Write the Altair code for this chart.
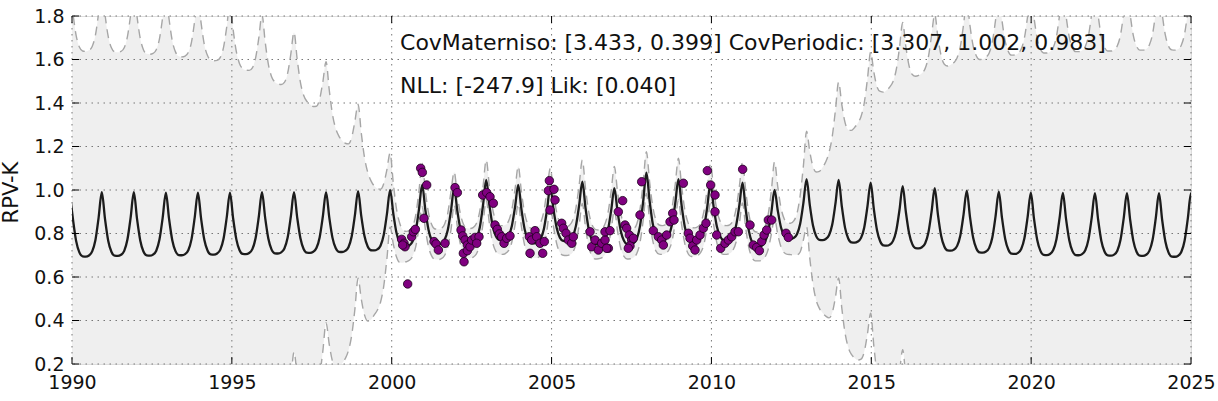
import altair as alt
import pandas as pd

# ---------------------------------------------------------------------------
# Values
# ---------------------------------------------------------------------------
# GP posterior mean, sampled 10 times per fitted period (period = 1.002 yr),
# first sample at the 1989.93 peak; one row per cycle.
PERIOD = 1.002
T0 = 1989.93
MEAN_ROWS = [
    [0.990, 0.866, 0.765, 0.713, 0.695, 0.694, 0.699, 0.718, 0.769, 0.872],
    [0.990, 0.867, 0.767, 0.716, 0.698, 0.697, 0.702, 0.720, 0.772, 0.873],
    [0.990, 0.867, 0.768, 0.717, 0.699, 0.698, 0.703, 0.721, 0.772, 0.872],
    [0.988, 0.867, 0.769, 0.719, 0.701, 0.700, 0.705, 0.723, 0.773, 0.873],
    [0.988, 0.868, 0.771, 0.722, 0.704, 0.703, 0.708, 0.726, 0.776, 0.874],
    [0.988, 0.869, 0.773, 0.723, 0.706, 0.705, 0.710, 0.728, 0.778, 0.876],
    [0.990, 0.872, 0.776, 0.726, 0.709, 0.708, 0.713, 0.731, 0.780, 0.877],
    [0.990, 0.873, 0.778, 0.729, 0.712, 0.711, 0.716, 0.733, 0.782, 0.878],
    [0.990, 0.875, 0.781, 0.733, 0.716, 0.715, 0.720, 0.737, 0.786, 0.883],
    [0.995, 0.880, 0.788, 0.740, 0.723, 0.722, 0.727, 0.744, 0.793, 0.889],
    [1.000, 0.891, 0.802, 0.757, 0.741, 0.740, 0.745, 0.763, 0.812, 0.910],
    [1.023, 0.908, 0.816, 0.768, 0.751, 0.750, 0.754, 0.771, 0.816, 0.905],
    [1.008, 0.902, 0.816, 0.771, 0.756, 0.755, 0.760, 0.778, 0.829, 0.930],
    [1.046, 0.930, 0.836, 0.788, 0.771, 0.770, 0.774, 0.790, 0.835, 0.922],
    [1.023, 0.910, 0.819, 0.772, 0.756, 0.755, 0.759, 0.776, 0.821, 0.911],
    [1.015, 0.910, 0.825, 0.781, 0.766, 0.765, 0.770, 0.787, 0.835, 0.929],
    [1.038, 0.917, 0.819, 0.769, 0.751, 0.750, 0.754, 0.771, 0.816, 0.905],
    [1.008, 0.900, 0.812, 0.767, 0.751, 0.750, 0.756, 0.776, 0.834, 0.948],
    [1.080, 0.950, 0.844, 0.790, 0.772, 0.770, 0.775, 0.792, 0.841, 0.938],
    [1.050, 0.928, 0.830, 0.779, 0.761, 0.760, 0.765, 0.782, 0.829, 0.922],
    [1.030, 0.921, 0.832, 0.787, 0.771, 0.770, 0.774, 0.791, 0.837, 0.928],
    [1.034, 0.911, 0.811, 0.759, 0.741, 0.740, 0.744, 0.761, 0.806, 0.896],
    [1.000, 0.906, 0.829, 0.790, 0.776, 0.775, 0.780, 0.797, 0.845, 0.940],
    [1.050, 0.932, 0.837, 0.788, 0.771, 0.770, 0.775, 0.792, 0.840, 0.936],
    [1.046, 0.925, 0.827, 0.777, 0.759, 0.758, 0.763, 0.780, 0.828, 0.924],
    [1.034, 0.912, 0.814, 0.763, 0.745, 0.744, 0.749, 0.766, 0.814, 0.908],
    [1.018, 0.898, 0.801, 0.751, 0.733, 0.732, 0.737, 0.754, 0.802, 0.898],
    [1.008, 0.887, 0.790, 0.740, 0.722, 0.721, 0.726, 0.743, 0.791, 0.887],
    [0.997, 0.877, 0.780, 0.731, 0.713, 0.712, 0.717, 0.734, 0.783, 0.880],
    [0.992, 0.872, 0.775, 0.725, 0.707, 0.706, 0.711, 0.729, 0.778, 0.875],
    [0.988, 0.867, 0.770, 0.720, 0.702, 0.701, 0.706, 0.724, 0.774, 0.874],
    [0.987, 0.866, 0.769, 0.719, 0.701, 0.700, 0.705, 0.723, 0.773, 0.872],
    [0.986, 0.865, 0.767, 0.717, 0.699, 0.698, 0.703, 0.721, 0.771, 0.871],
    [0.985, 0.864, 0.766, 0.716, 0.698, 0.697, 0.702, 0.720, 0.770, 0.870],
    [0.985, 0.862, 0.763, 0.712, 0.694, 0.693, 0.698, 0.716, 0.767, 0.868],
    [0.985, 0.862],
]

# Half-width of the confidence band at the same samples.
HALF_WIDTH_ROWS = [
    [0.946, 0.945, 0.945, 0.944, 0.944, 0.943, 0.943, 0.942, 0.942, 0.941],
    [0.940, 0.940, 0.939, 0.938, 0.937, 0.936, 0.935, 0.934, 0.933, 0.932],
    [0.931, 0.930, 0.929, 0.928, 0.927, 0.926, 0.925, 0.924, 0.923, 0.922],
    [0.921, 0.919, 0.917, 0.916, 0.914, 0.912, 0.911, 0.909, 0.907, 0.905],
    [0.902, 0.900, 0.898, 0.896, 0.894, 0.891, 0.888, 0.884, 0.880, 0.876],
    [0.872, 0.868, 0.863, 0.858, 0.852, 0.846, 0.840, 0.834, 0.828, 0.822],
    [0.816, 0.809, 0.802, 0.795, 0.788, 0.780, 0.772, 0.764, 0.756, 0.748],
    [0.735, 0.727, 0.717, 0.707, 0.696, 0.683, 0.668, 0.652, 0.636, 0.619],
    [0.600, 0.585, 0.568, 0.550, 0.532, 0.513, 0.495, 0.475, 0.455, 0.432],
    [0.400, 0.382, 0.362, 0.342, 0.320, 0.297, 0.280, 0.260, 0.236, 0.205],
    [0.170, 0.140, 0.110, 0.090, 0.075, 0.070, 0.068, 0.068, 0.072, 0.085],
    [0.100, 0.088, 0.078, 0.072, 0.070, 0.070, 0.070, 0.072, 0.078, 0.088],
    [0.075, 0.072, 0.070, 0.068, 0.068, 0.068, 0.068, 0.070, 0.075, 0.085],
    [0.092, 0.085, 0.077, 0.070, 0.066, 0.066, 0.066, 0.068, 0.074, 0.082],
    [0.086, 0.080, 0.074, 0.070, 0.068, 0.068, 0.070, 0.074, 0.082, 0.092],
    [0.085, 0.078, 0.072, 0.068, 0.066, 0.066, 0.068, 0.074, 0.082, 0.092],
    [0.100, 0.090, 0.080, 0.072, 0.068, 0.066, 0.066, 0.070, 0.078, 0.090],
    [0.100, 0.090, 0.080, 0.072, 0.068, 0.066, 0.066, 0.068, 0.076, 0.088],
    [0.096, 0.088, 0.078, 0.071, 0.067, 0.066, 0.066, 0.068, 0.076, 0.088],
    [0.096, 0.088, 0.078, 0.071, 0.067, 0.066, 0.066, 0.068, 0.076, 0.086],
    [0.090, 0.082, 0.075, 0.070, 0.067, 0.066, 0.066, 0.068, 0.076, 0.086],
    [0.094, 0.086, 0.077, 0.070, 0.067, 0.066, 0.067, 0.070, 0.080, 0.100],
    [0.130, 0.110, 0.090, 0.078, 0.072, 0.072, 0.078, 0.095, 0.130, 0.170],
    [0.220, 0.245, 0.270, 0.295, 0.315, 0.335, 0.355, 0.380, 0.405, 0.430],
    [0.450, 0.468, 0.484, 0.500, 0.515, 0.530, 0.545, 0.558, 0.572, 0.586],
    [0.600, 0.630, 0.660, 0.690, 0.705, 0.715, 0.725, 0.733, 0.740, 0.746],
    [0.752, 0.760, 0.770, 0.780, 0.790, 0.795, 0.800, 0.804, 0.808, 0.812],
    [0.800, 0.815, 0.828, 0.838, 0.848, 0.855, 0.860, 0.865, 0.869, 0.873],
    [0.876, 0.879, 0.882, 0.885, 0.887, 0.890, 0.893, 0.896, 0.899, 0.902],
    [0.905, 0.907, 0.909, 0.911, 0.913, 0.915, 0.917, 0.919, 0.921, 0.923],
    [0.924, 0.925, 0.926, 0.927, 0.928, 0.929, 0.930, 0.931, 0.932, 0.933],
    [0.933, 0.934, 0.934, 0.935, 0.935, 0.936, 0.936, 0.937, 0.937, 0.938],
    [0.938, 0.939, 0.939, 0.940, 0.940, 0.941, 0.941, 0.942, 0.942, 0.943],
    [0.943, 0.944, 0.944, 0.945, 0.945, 0.946, 0.946, 0.947, 0.947, 0.948],
    [0.948, 0.948, 0.949, 0.949, 0.950, 0.950, 0.950, 0.951, 0.951, 0.951],
    [0.952, 0.952],
]

# Observations (purple dots)
OBS_YEAR = [
    2000.312, 2000.385, 2000.416, 2000.343, 2000.499, 2000.625, 2000.677, 2000.739,
    2000.906, 2000.958, 2001.094, 2001.010, 2001.323, 2001.386, 2001.459, 2001.667,
    2001.980, 2002.053, 2002.168, 2002.220, 2002.293, 2002.366, 2002.241, 2002.262,
    2002.366, 2002.449, 2002.501, 2002.606, 2002.730, 2002.658, 2002.845, 2002.970,
    2003.075, 2003.179, 2003.231, 2003.304, 2003.367, 2003.440, 2003.513, 2003.596,
    2003.700, 2004.305, 2004.378, 2004.326, 2004.482, 2004.534, 2004.639, 2004.722,
    2004.774, 2004.899, 2004.931, 2005.077, 2005.108, 2004.951, 2005.316, 2005.368,
    2005.452, 2005.525, 2005.629, 2005.681, 2006.203, 2006.255, 2006.359, 2006.463,
    2006.567, 2006.672, 2006.776, 2006.671, 2006.828, 2006.724, 2007.088, 2007.224,
    2007.297, 2007.349, 2007.433, 2007.506, 2007.453, 2007.558, 2007.401, 2007.766,
    2007.818, 2008.183, 2008.340, 2008.444, 2008.496, 2008.600, 2008.705, 2008.788,
    2008.830, 2009.122, 2009.278, 2009.330, 2009.414, 2009.487, 2009.539, 2009.643,
    2009.747, 2009.831, 2009.872, 2009.977, 2010.112, 2010.112, 2010.164, 2010.289,
    2010.425, 2010.529, 2010.633, 2010.738, 2010.842, 2010.977, 2011.207, 2011.311,
    2011.415, 2011.499, 2011.572, 2011.645, 2011.728, 2011.780, 2011.885, 2012.333,
    2012.406,
]
OBS_VALUE = [
    0.773, 0.755, 0.739, 0.747, 0.568, 0.785, 0.808, 0.819,
    1.100, 1.081, 1.023, 0.870, 0.763, 0.752, 0.724, 0.755,
    1.011, 0.988, 0.816, 0.789, 0.770, 0.747, 0.709, 0.670,
    0.721, 0.739, 0.770, 0.782, 0.785, 0.755, 0.977, 0.988,
    0.969, 0.939, 0.839, 0.819, 0.798, 0.785, 0.755, 0.778,
    0.789, 0.785, 0.770, 0.709, 0.813, 0.785, 0.755, 0.709,
    0.763, 0.997, 1.043, 1.003, 0.954, 0.908, 0.847, 0.824,
    0.801, 0.770, 0.755, 0.785, 0.808, 0.739, 0.770, 0.724,
    0.755, 0.770, 0.732, 0.808, 0.813, 0.732, 0.900, 0.951,
    0.839, 0.824, 0.793, 0.770, 0.743, 0.778, 0.732, 0.885,
    1.038, 0.813, 0.785, 0.770, 0.747, 0.793, 0.854, 0.893,
    0.862, 1.031, 0.801, 0.778, 0.743, 0.724, 0.770, 0.793,
    0.824, 0.847, 1.089, 1.023, 0.977, 0.900, 0.793, 0.732,
    0.755, 0.770, 0.785, 0.808, 0.808, 1.095, 0.839, 0.747,
    0.736, 0.721, 0.763, 0.793, 0.816, 0.862, 0.862, 0.801,
    0.782,
]

X_TICKS = [1990, 1995, 2000, 2005, 2010, 2015, 2020, 2025]
Y_TICKS = [0.2, 0.4, 0.6, 0.8, 1.0, 1.2, 1.4, 1.6, 1.8]

TEXT_LINES = [
    "CovMaterniso: [3.433, 0.399] CovPeriodic: [3.307, 1.002, 0.983]",
    "NLL: [-247.9] Lik: [0.040]",
]
TEXT_X = [2000.26, 2000.26]
TEXT_Y = [1.645, 1.447]

# ---------------------------------------------------------------------------
# Tables
# ---------------------------------------------------------------------------
mean = [v for row in MEAN_ROWS for v in row]
half = [v for row in HALF_WIDTH_ROWS for v in row]
t = [T0 + i * PERIOD / 10 for i in range(len(mean))]
curve = pd.DataFrame({
    "t": t,
    "mean": mean,
    "upper": [m + h for m, h in zip(mean, half)],
    "lower": [m - h for m, h in zip(mean, half)],
})
obs = pd.DataFrame({"t": OBS_YEAR, "v": OBS_VALUE})
xt = pd.DataFrame({"t": X_TICKS})
yt = pd.DataFrame({"v": Y_TICKS})
txt = pd.DataFrame({"t": TEXT_X, "v": TEXT_Y, "s": TEXT_LINES})

W, H = 1119, 348
FONT = "DejaVu Sans"

xscale = alt.Scale(domain=[1990, 2025], nice=False, zero=False)
yscale = alt.Scale(domain=[0.2, 1.8], nice=False, zero=False)
xaxis = alt.Axis(values=X_TICKS, format="d", title=None, grid=False, ticks=False,
                 tickSize=0, domain=False, labelFlush=False, labelPadding=9,
                 labelFont=FONT, labelFontSize=19, labelColor="#111111")
yaxis = alt.Axis(values=Y_TICKS, format=".1f", title="RPV-K", grid=False, ticks=False,
                 tickSize=0, domain=False, labelFlush=False, labelPadding=8,
                 labelFont=FONT, labelFontSize=19, labelColor="#111111",
                 titleFont=FONT, titleFontSize=21, titleFontWeight="normal",
                 titleColor="#111111", titleAngle=270, titleBaseline="alphabetic",
                 titleX=-55, titleY=176)


def X(field):
    return alt.X(f"{field}:Q", scale=xscale, axis=xaxis)


def Y(field):
    return alt.Y(f"{field}:Q", scale=yscale, axis=yaxis)


band = alt.Chart(curve).mark_area(color="#efefef", clip=True, interpolate="monotone").encode(
    x=X("t"), y=Y("upper"), y2="lower")

grid_x = alt.Chart(xt).mark_rule(color="#777777", strokeWidth=1, strokeDash=[1.5, 4.5]).encode(
    x=X("t"))
grid_y = alt.Chart(yt).mark_rule(color="#777777", strokeWidth=1, strokeDash=[1.5, 4.5]).encode(
    y=Y("v"))

edge_style = dict(color="#a6a6a6", strokeWidth=1.4, strokeDash=[9, 6], clip=True,
                  interpolate="monotone")
upper_line = alt.Chart(curve).mark_line(**edge_style).encode(x=X("t"), y=Y("upper"))
lower_line = alt.Chart(curve).mark_line(**edge_style).encode(x=X("t"), y=Y("lower"))

mean_line = alt.Chart(curve).mark_line(color="#1c1c1c", strokeWidth=2.3, clip=True,
                                        interpolate="monotone").encode(x=X("t"), y=Y("mean"))

points = alt.Chart(obs).mark_point(filled=True, shape="circle", size=72, fill="#800080",
                                   stroke="#1a001a", strokeWidth=0.8, opacity=1).encode(
    x=X("t"), y=Y("v"))

labels = alt.Chart(txt).mark_text(align="left", baseline="alphabetic", font=FONT,
                                  fontSize=22, color="#111111").encode(
    x=X("t"), y=Y("v"), text="s:N")

TL = 7
tick_bottom = alt.Chart(xt).mark_rule(color="black", strokeWidth=1).encode(
    x=X("t"), y=alt.value(H), y2=alt.value(H - TL))
tick_top = alt.Chart(xt).mark_rule(color="black", strokeWidth=1).encode(
    x=X("t"), y=alt.value(0), y2=alt.value(TL))
tick_left = alt.Chart(yt).mark_rule(color="black", strokeWidth=1).encode(
    y=Y("v"), x=alt.value(0), x2=alt.value(TL))
tick_right = alt.Chart(yt).mark_rule(color="black", strokeWidth=1).encode(
    y=Y("v"), x=alt.value(W - TL), x2=alt.value(W))

chart = alt.layer(
    band, grid_x, grid_y, upper_line, lower_line, mean_line, points, labels,
    tick_bottom, tick_top, tick_left, tick_right,
).properties(
    width=W, height=H,
    padding={"left": 72, "top": 16, "right": 27, "bottom": 37},
    autosize=alt.AutoSizeParams(type="none"),
).configure_view(
    stroke="black", strokeWidth=1.3, fill="white"
).configure(background="white")

chart.save("out.html", embed_options={"renderer": "svg", "actions": False})
